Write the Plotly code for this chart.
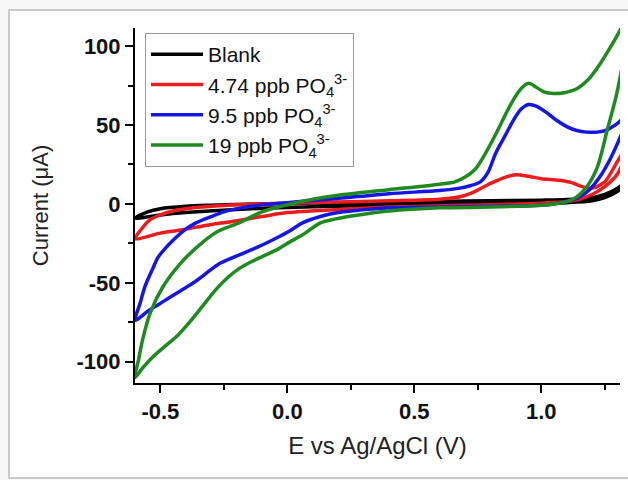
import plotly.graph_objects as go

# ---------------- data ----------------
blank_E = [-0.60, -0.55, -0.50, -0.40, -0.30, -0.20, 0.0, 0.2, 0.4, 0.6, 0.8, 1.0, 1.1, 1.2, 1.25, 1.30, 1.35,
           1.30, 1.25, 1.20, 1.10, 1.00, 0.80, 0.60, 0.40, 0.20, 0.00, -0.20, -0.40, -0.50, -0.60]
blank_I = [-9, -5, -3, -1.5, -0.8, -0.3, 0.3, 0.8, 1.2, 1.6, 2.0, 2.4, 2.8, 4, 6, 10, 16,
           8, 4, 2, 0.8, 0.3, -0.2, -0.6, -1.0, -1.5, -2.2, -3.5, -5.5, -7, -9]

red_E = [-0.60, -0.57, -0.54, -0.50, -0.45, -0.40, -0.30, -0.20, 0.0, 0.2, 0.4, 0.6, 0.68, 0.74, 0.80, 0.86,
         0.90, 0.95, 1.00, 1.07, 1.12, 1.16, 1.20, 1.25, 1.30, 1.35,
         1.30, 1.25, 1.20, 1.15, 1.10, 1.00, 0.80, 0.60, 0.40, 0.20, 0.00, -0.10, -0.23, -0.30, -0.42, -0.50, -0.60]
red_I = [-22, -15, -10, -7, -4.5, -3, -1.5, -0.5, 0.5, 1.2, 2, 3, 4.5, 8, 13, 17,
         18.5, 17.5, 16, 15, 13.5, 11, 10, 14, 27, 40,
         19, 11, 6, 3, 1.5, 0.5, -0.5, -1.2, -2, -3.5, -5.5, -8, -11.4, -13, -16.5, -18.5, -22]

blue_E = [-0.60, -0.58, -0.56, -0.53, -0.51, -0.48, -0.45, -0.40, -0.36, -0.30, -0.25, -0.18, -0.10, 0.0, 0.05,
          0.2, 0.4, 0.6, 0.68, 0.72, 0.76, 0.79, 0.82, 0.86, 0.89, 0.92, 0.95, 0.98, 1.02, 1.06, 1.10, 1.14,
          1.18, 1.22, 1.26, 1.30, 1.35,
          1.31, 1.27, 1.23, 1.19, 1.15, 1.10, 1.05, 1.00, 0.80, 0.60, 0.40, 0.26, 0.20, 0.13, 0.06, 0.00,
          -0.06, -0.14, -0.23, -0.27, -0.32, -0.37, -0.42, -0.47, -0.51, -0.55, -0.60]
blue_I = [-74, -63, -52, -41, -34, -28, -23, -16, -12, -8, -5, -2.5, -0.6, 0.8, 1.5,
          3.5, 6.5, 8.5, 10, 11.5, 14, 20, 32, 44, 53, 60, 63, 62, 58, 53, 49, 46.5,
          45.5, 45.5, 47, 51, 58,
          42, 28, 17, 9, 4.4, 1.5, 0, -0.8, -1.5, -2, -2.5, -4.4, -5.5, -8, -12, -18,
          -23, -29, -35, -38, -44, -50, -55, -60, -64, -68, -74]

green_E = [-0.60, -0.585, -0.57, -0.54, -0.49, -0.42, -0.36, -0.28, -0.19, -0.10, 0.0, 0.1, 0.2, 0.4, 0.6,
           0.66, 0.70, 0.74, 0.78, 0.82, 0.86, 0.89, 0.92, 0.95, 0.98, 1.01, 1.05, 1.09, 1.14, 1.18, 1.22,
           1.26, 1.30, 1.35,
           1.30, 1.26, 1.22, 1.18, 1.14, 1.10, 1.05, 1.00, 0.80, 0.60, 0.40, 0.26, 0.19, 0.13, 0.06, 0.00,
           -0.03, -0.08, -0.14, -0.19, -0.23, -0.28, -0.33, -0.38, -0.43, -0.48, -0.53, -0.57, -0.60]
green_I = [-110, -98, -86, -69, -52.5, -37.5, -28, -18, -12, -5, -0.5, 3, 5.5, 9, 12.5,
           14, 17, 22, 32, 44, 57, 66, 73, 76.5, 74, 71, 70, 70.5, 73, 78, 86,
           96, 107, 122,
           72, 47, 23, 11, 4.5, 1.5, 0, -0.8, -2, -2.5, -4.5, -7.5, -9.5, -12, -19.6, -25,
           -28, -32, -36.5, -41, -46, -54, -64, -74, -83, -90, -97, -104, -110]

series_names = ["Blank",
                "4.74 ppb PO<sub>4</sub><sup>3-</sup>",
                "9.5 ppb PO<sub>4</sub><sup>3-</sup>",
                "19 ppb PO<sub>4</sub><sup>3-</sup>"]
series_E = [blank_E, red_E, blue_E, green_E]
series_I = [blank_I, red_I, blue_I, green_I]
series_colors = ["#000000", "#ec1c1c", "#1616e4", "#1f8a1f"]

x_ticks = [-0.5, 0.0, 0.5, 1.0]
x_ticklabels = ["-0.5", "0.0", "0.5", "1.0"]
y_ticks = [-100, -50, 0, 50, 100]
y_ticklabels = ["-100", "-50", "0", "50", "100"]

# ---------------- figure ----------------
W, H = 628, 480
ML, MR, MT, MB = 135, 8, 28, 97
pw, ph = W - ML - MR, H - MT - MB

def px(p):
    return (p - ML) / pw

def py(p):
    return (H - MB - p) / ph

fig = go.Figure()
for name, E, I, c in zip(series_names, series_E, series_I, series_colors):
    fig.add_trace(go.Scatter(x=E, y=I, mode="lines", name=name,
                             line=dict(color=c, width=3.5, shape="spline", smoothing=0.8)))

font_family = "Liberation Sans, Arial, sans-serif"

fig.update_layout(
    width=W, height=H,
    margin=dict(l=ML, r=MR, t=MT, b=MB, pad=0),
    paper_bgcolor="#f6f6f6",
    plot_bgcolor="white",
    font=dict(family=font_family, color="#111111"),
    showlegend=True,
    legend=dict(x=px(145), y=py(33), xanchor="left", yanchor="top",
                bgcolor="white", bordercolor="#999999", borderwidth=1,
                font=dict(size=21, color="#111111"), tracegroupgap=0, itemwidth=52),
    shapes=[dict(type="rect", xref="paper", yref="paper",
                 x0=px(9), x1=px(660), y0=py(478), y1=py(10),
                 fillcolor="white", line=dict(color="#bcbcbc", width=1.5), layer="below")],
)

fig.update_xaxes(
    range=[-0.6, 1.31], showgrid=False, zeroline=False,
    showline=True, linecolor="black", linewidth=2,
    tickmode="array", tickvals=x_ticks, ticktext=x_ticklabels,
    ticks="outside", ticklen=8, tickwidth=2, tickcolor="black",
    minor=dict(dtick=0.25, ticks="outside", ticklen=5, tickwidth=2, tickcolor="black", showgrid=False),
    tickfont=dict(size=22, family=font_family, weight="bold", color="#111111"),
    title=dict(text="E vs Ag/AgCl (V)", font=dict(size=24, color="#222222"), standoff=14),
)
fig.update_yaxes(
    range=[-113.5, 111.5], showgrid=False, zeroline=False,
    showline=True, linecolor="black", linewidth=2,
    tickmode="array", tickvals=y_ticks, ticktext=y_ticklabels,
    ticks="outside", ticklen=8, tickwidth=2, tickcolor="black",
    minor=dict(dtick=25, ticks="outside", ticklen=5, tickwidth=2, tickcolor="black", showgrid=False),
    tickfont=dict(size=22, family=font_family, weight="bold", color="#111111"),
    title=dict(text="Current (μA)", font=dict(size=22, color="#222222"), standoff=22),
)

fig.write_html("out.html")
